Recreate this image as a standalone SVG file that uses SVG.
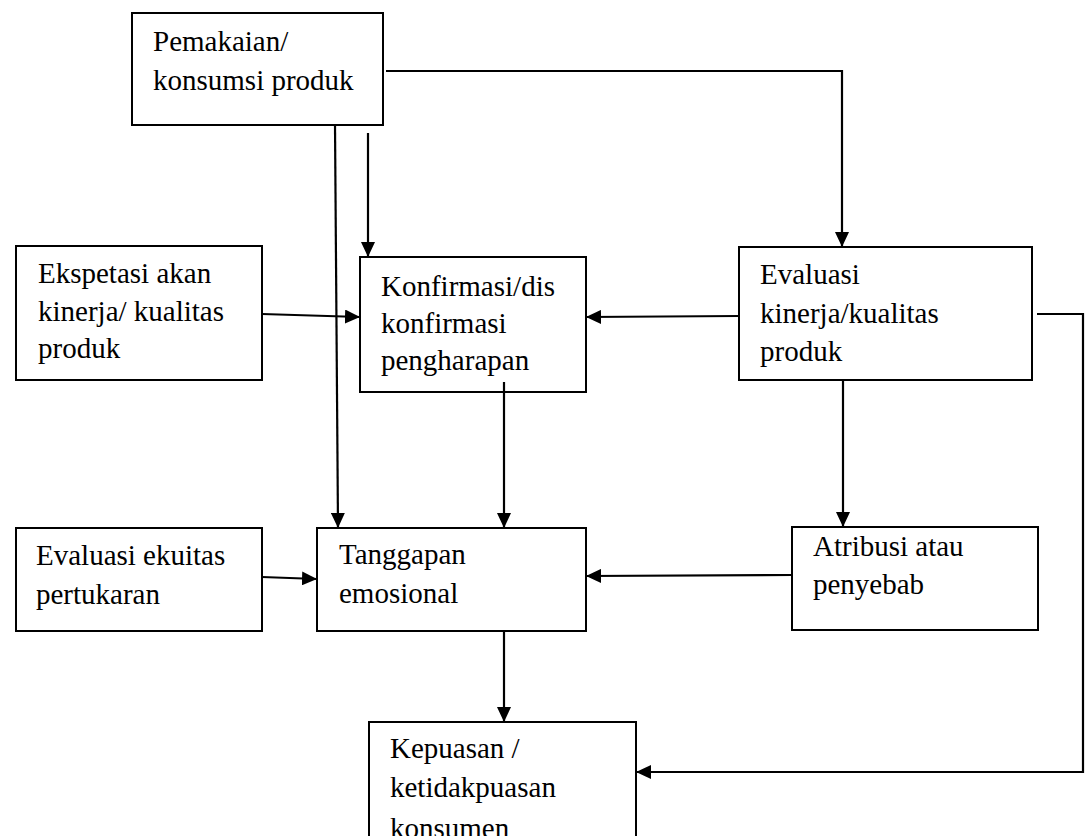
<svg xmlns="http://www.w3.org/2000/svg" width="1091" height="836" viewBox="0 0 1091 836">
<style>
.box{fill:#fff;stroke:#000;stroke-width:2}
.t{font-family:"Liberation Serif","Times New Roman",serif;font-size:29px;fill:#000}
.c{fill:none;stroke:#000;stroke-width:2.2}
</style>
<defs>
<marker id="ah" markerUnits="userSpaceOnUse" markerWidth="16" markerHeight="14" refX="15" refY="7" orient="auto">
<path d="M0,0 L15,7 L0,14 z" fill="#000"/>
</marker>
</defs>
<rect width="1091" height="836" fill="#fff"/>
<g id="n-pemakaian">
<rect class="box" x="132" y="13" width="251" height="112"/>
<text class="t" x="153" y="51">Pemakaian/</text>
<text class="t" x="153" y="90">konsumsi produk</text>
</g>
<g id="n-ekspetasi">
<rect class="box" x="16" y="246" width="246" height="134"/>
<text class="t" x="38" y="283">Ekspetasi akan</text>
<text class="t" x="38" y="321">kinerja/ kualitas</text>
<text class="t" x="38" y="358">produk</text>
</g>
<g id="n-konfirmasi">
<rect class="box" x="360" y="257" width="226" height="135"/>
<text class="t" x="381" y="296">Konfirmasi/dis</text>
<text class="t" x="381" y="333">konfirmasi</text>
<text class="t" x="381" y="370">pengharapan</text>
</g>
<g id="n-evaluasi-kinerja">
<rect class="box" x="739" y="247" width="293" height="133"/>
<text class="t" x="760" y="284">Evaluasi</text>
<text class="t" x="760" y="323">kinerja/kualitas</text>
<text class="t" x="760" y="361">produk</text>
</g>
<g id="n-evaluasi-ekuitas">
<rect class="box" x="16" y="528" width="246" height="103"/>
<text class="t" x="36" y="565">Evaluasi ekuitas</text>
<text class="t" x="36" y="604">pertukaran</text>
</g>
<g id="n-tanggapan">
<rect class="box" x="317" y="528" width="269" height="103"/>
<text class="t" x="339" y="564">Tanggapan</text>
<text class="t" x="339" y="603">emosional</text>
</g>
<g id="n-atribusi">
<rect class="box" x="792" y="527" width="246" height="103"/>
<text class="t" x="813" y="556">Atribusi atau</text>
<text class="t" x="813" y="594">penyebab</text>
</g>
<g id="n-kepuasan">
<rect class="box" x="369" y="722" width="267" height="130"/>
<text class="t" x="390" y="758">Kepuasan /</text>
<text class="t" x="390" y="797">ketidakpuasan</text>
<text class="t" x="390" y="838">konsumen</text>
</g>
<g id="connectors">
<polyline class="c" points="386,71 842,71 842,247" marker-end="url(#ah)"/>
<line class="c" x1="335" y1="125" x2="338" y2="528" marker-end="url(#ah)"/>
<line class="c" x1="368" y1="133" x2="368" y2="257" marker-end="url(#ah)"/>
<line class="c" x1="262" y1="314" x2="360" y2="317" marker-end="url(#ah)"/>
<line class="c" x1="739" y1="316" x2="586" y2="317" marker-end="url(#ah)"/>
<line class="c" x1="504" y1="382" x2="504" y2="528" marker-end="url(#ah)"/>
<line class="c" x1="843" y1="380" x2="843" y2="527" marker-end="url(#ah)"/>
<line class="c" x1="262" y1="577" x2="317" y2="579" marker-end="url(#ah)"/>
<line class="c" x1="792" y1="575" x2="586" y2="576" marker-end="url(#ah)"/>
<line class="c" x1="504" y1="631" x2="504" y2="722" marker-end="url(#ah)"/>
<polyline class="c" points="1037,314 1083,314 1083,772 636,772" marker-end="url(#ah)"/>
</g>
</svg>
